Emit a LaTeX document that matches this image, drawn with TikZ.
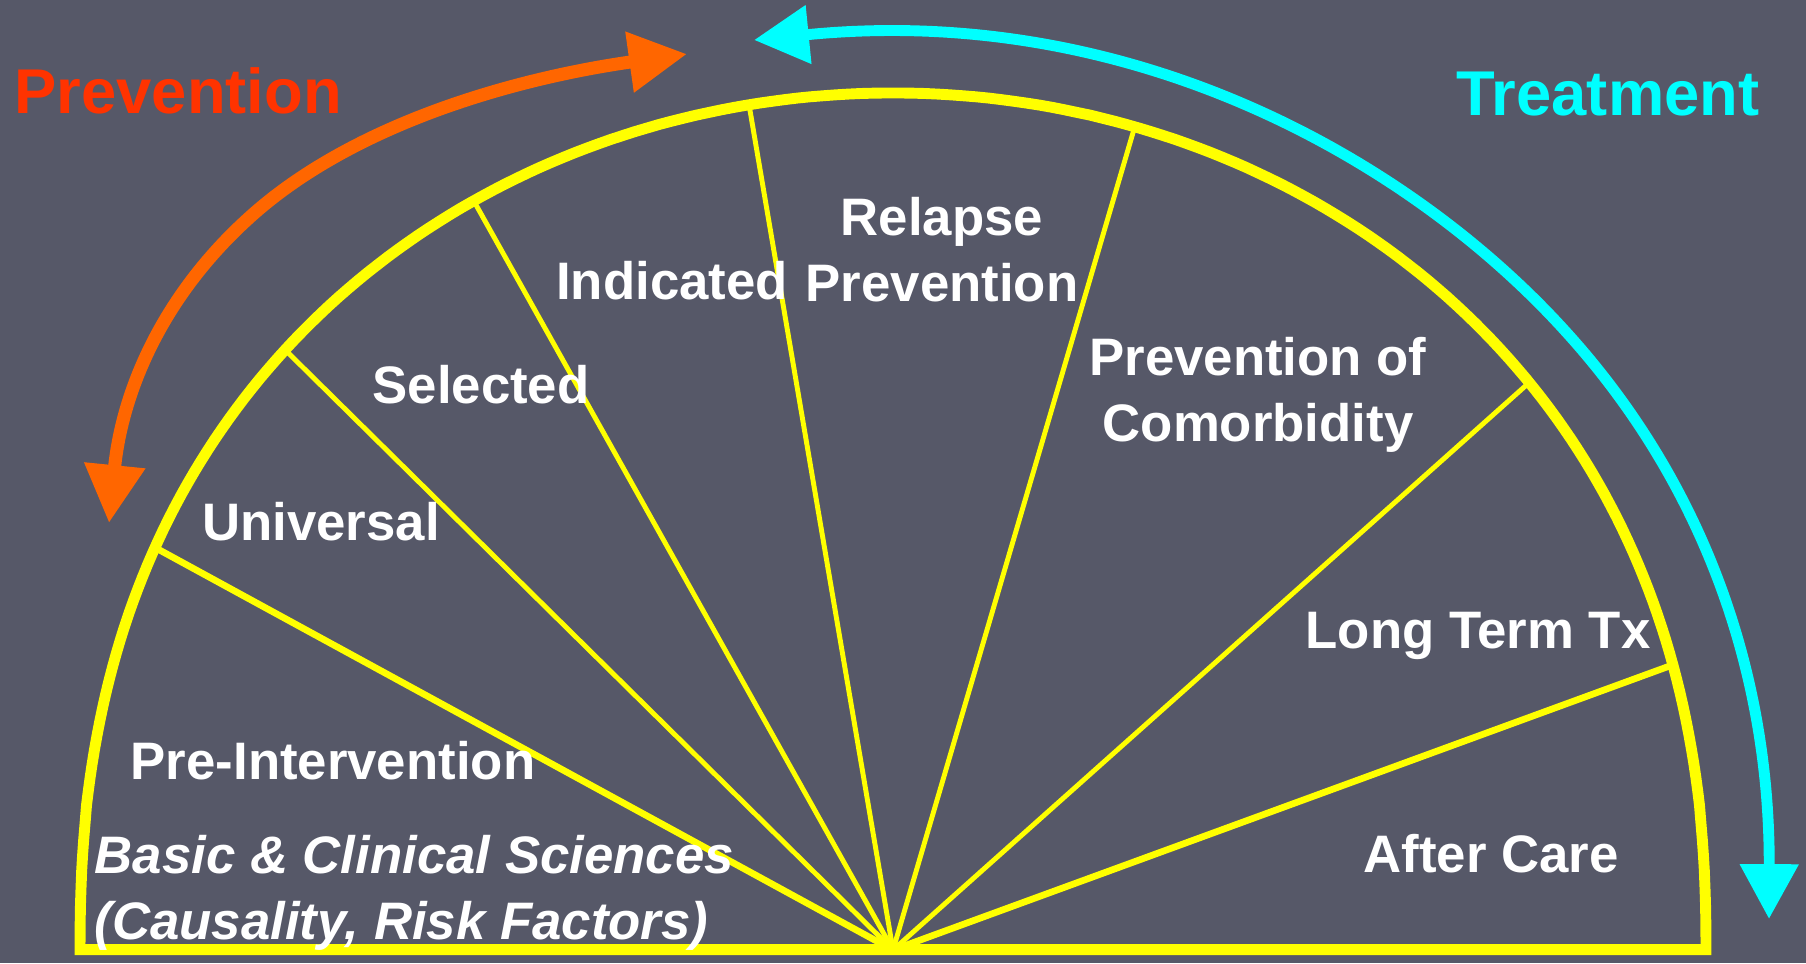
\documentclass[tikz,border=0pt]{standalone}
\usepackage{fontspec}
\setmainfont{Liberation Sans}
\usetikzlibrary{arrows.meta}

\definecolor{slidebg}{RGB}{86,88,104}
\definecolor{fanyellow}{RGB}{255,255,0}
\definecolor{prevorange}{RGB}{255,102,0}
\definecolor{prevred}{RGB}{255,51,0}
\definecolor{treatcyan}{RGB}{0,255,255}

\tikzset{
  rim/.style={fanyellow, line width=3.1pt, line join=miter},
  spoke/.style={fanyellow, line width=1.4pt},
  sector/.style={text=white, inner sep=0pt, anchor=base, align=center,
    font=\bfseries\fontsize{15}{18.5}\selectfont},
  heading/.style={inner sep=0pt, anchor=base, font=\bfseries\fontsize{18}{21}\selectfont},
}

\begin{document}
\begin{tikzpicture}[x=0.01cm,y=-0.01cm,
    declare function={rimx(\t)=893+813*cos(\t); rimy(\t)=950-857*sin(\t)^0.87;}]
  \fill[slidebg] (0,0) rectangle (1806,963);
  \useasboundingbox (0,0) rectangle (1806,963);
  % hub and the points where the spokes meet the rim (pixels, y down)
  \coordinate (hub) at (893,950);
  \coordinate (r1) at ({rimx(155.2)},{rimy(155.2)});
  \coordinate (r2) at ({rimx(138.4)},{rimy(138.4)});
  \coordinate (r3) at ({rimx(121.05)},{rimy(121.05)});
  \coordinate (r4) at ({rimx(100.2)},{rimy(100.2)});
  \coordinate (r5) at ({rimx(72.7)},{rimy(72.7)});
  \coordinate (r6) at ({rimx(38.5)},{rimy(38.5)});
  \coordinate (r7) at ({rimx(16.4)},{rimy(16.4)});
  % rim of the fan
  \draw[rim] plot[domain=0.01:179.99, samples=200, variable=\t] ({rimx(\t)},{rimy(\t)}) -- cycle;
  % spokes
  \foreach \s in {r2,r3,r4,r5,r6}
    \draw[spoke] (hub) -- (\s);
  \draw[spoke, line width=1.9pt] (hub) -- (r1);
  \draw[spoke, line width=1.9pt] (hub) -- (r7);
  % prevention arrow
  \coordinate (prevlow) at (109,523);
  \coordinate (prevtop) at (687,54);
  \draw[prevorange, line width=3.7pt, {Triangle[length=16.5pt,width=16.5pt]}-{Triangle[length=16.5pt,width=16.5pt]}]
    (prevlow) .. controls (122,393) and (161,297) .. (250,217)
    .. controls (354,123) and (517,78) .. (prevtop);
  % treatment arrow
  \coordinate (treattop) at (754,40);
  \coordinate (treatlow) at (1769,919);
  \draw[treatcyan, line width=3.1pt, {Triangle[length=15.6pt,width=16pt]}-{Triangle[length=15.6pt,width=16pt]}]
    (treattop) .. controls (1134,2) and (1413,162) .. (1567,333)
    .. controls (1701,481) and (1770,669) .. (treatlow);
  % titles
  \node[heading, text=prevred, anchor=base west] (prevtitle) at (14,113) {Prevention};
  \node[heading, text=treatcyan] (treattitle) at (1608,115) {Treatment};
  % sector labels
  \node[sector] (relapse) at (942,301) {Relapse\\Prevention};
  \node[sector] (indicated) at (672,299) {Indicated};
  \node[sector] (selected) at (481,403) {Selected};
  \node[sector] (universal) at (321,540) {Universal};
  \node[sector] (preint) at (333,779) {Pre-Intervention};
  \node[sector, anchor=base west, align=left, font=\bfseries\itshape\fontsize{15}{18.5}\selectfont]
    (basic) at (94,939) {Basic \& Clinical Sciences\\(Causality, Risk Factors)};
  \node[sector] (comorb) at (1258,441) {Prevention of\\Comorbidity};
  \node[sector] (longterm) at (1478,648) {Long Term Tx};
  \node[sector] (aftercare) at (1491,872) {After Care};
\end{tikzpicture}
\end{document}
